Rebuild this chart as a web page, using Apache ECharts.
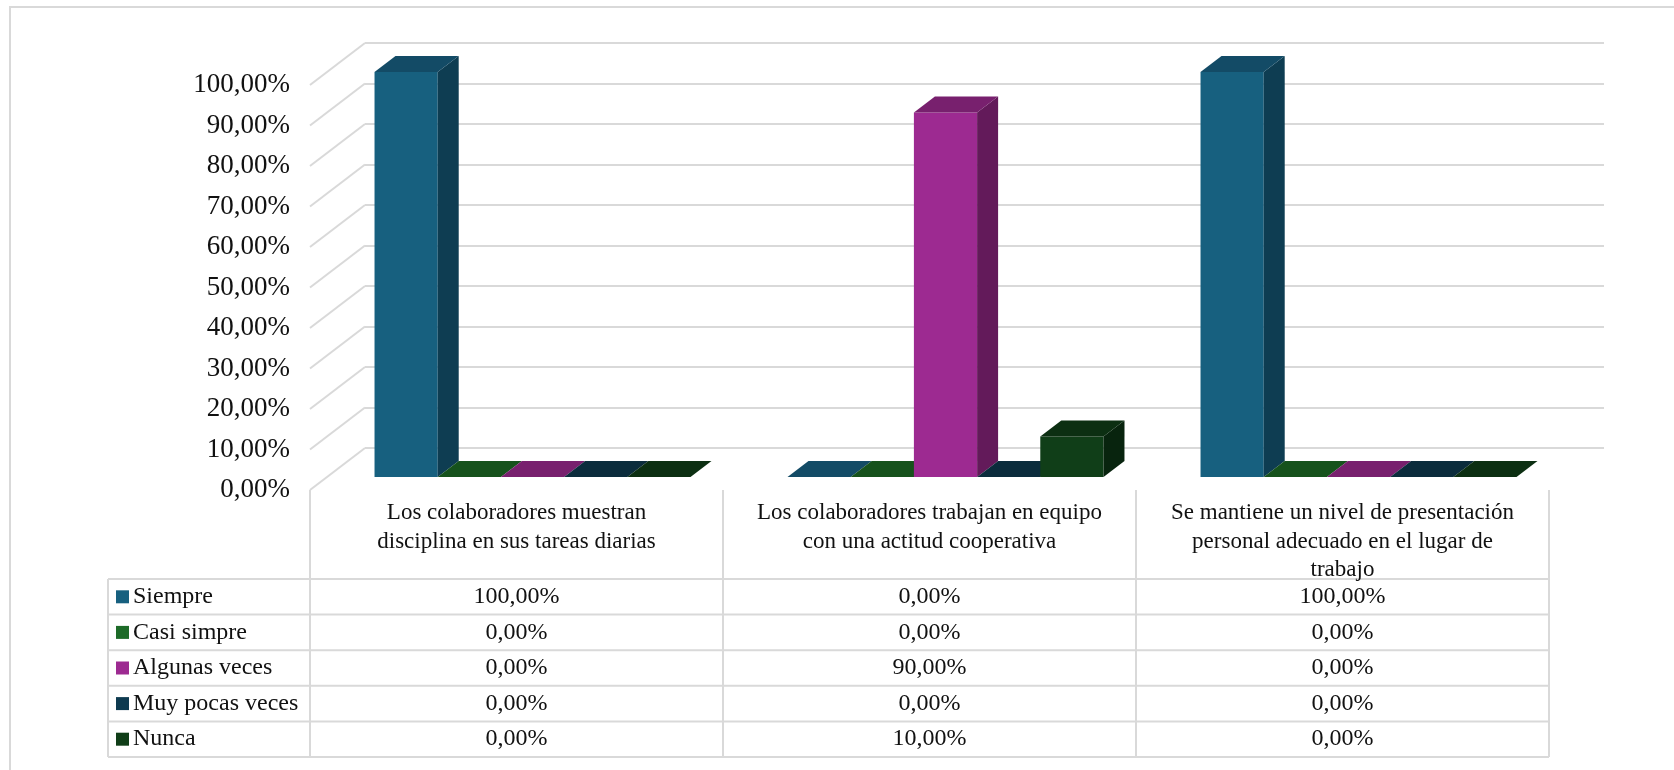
<!DOCTYPE html>
<html><head><meta charset="utf-8">
<script src="https://cdn.jsdelivr.net/npm/echarts@6/dist/echarts.min.js"></script>
<style>html,body{margin:0;padding:0;background:#fff}#c{width:1674px;height:770px}</style>
</head><body><div id="c"></div>
<script>
// ---- data ----
const categories = [
  'Los colaboradores muestran\ndisciplina en sus tareas diarias',
  'Los colaboradores trabajan en equipo\ncon una actitud cooperativa',
  'Se mantiene un nivel de presentación\npersonal adecuado en el lugar de\ntrabajo'
];
const seriesNames = ['Siempre', 'Casi simpre', 'Algunas veces', 'Muy pocas veces', 'Nunca'];
const siempre       = [100, 0, 100];
const casiSimpre    = [0, 0, 0];
const algunasVeces  = [0, 90, 0];
const muyPocasVeces = [0, 0, 0];
const nunca         = [0, 10, 0];
const yTicks = [0, 10, 20, 30, 40, 50, 60, 70, 80, 90, 100];

const seriesValues = [siempre, casiSimpre, algunasVeces, muyPocasVeces, nunca];
const frontColors = ['#17607F', '#1D6B28', '#9D2A91', '#0E3A50', '#103E18'];
const topColors   = ['#134B66', '#16521C', '#78206E', '#0B2C3C', '#0C2F12'];
const sideColors  = ['#0E3D52', '#0F3D14', '#631A5A', '#081F2B', '#08240E'];

// ---- styles / layout ----
const FONT = '"Liberation Serif","Times New Roman",serif';
const FS_AXIS = 27, FS_HEAD = 23, FS_TBL = 24;
const TXT = '#111';
const LINE = '#d9d9d9';
const WALL = {left: 365, top: 43, width: 1239, height: 405};
const WALL_DX = 55, WALL_DY = 42;          // back wall -> front plane
const BAR_DX = 39, BAR_DY = 29;            // back wall -> bar front faces
const DEPTH_X = 21, DEPTH_Y = 16;          // bar depth
const GAP = 0.235;
const N = seriesNames.length;

const fmt = v => v.toFixed(2).replace('.', ',') + '%';

const chart = echarts.init(document.getElementById('c'), null, {renderer: 'canvas'});

function barRender(k) {
  return function (params, api) {
    const cat = api.value(0), v = api.value(1);
    const base = api.coord([cat, 0]);
    const top = api.coord([cat, v]);
    const band = api.size([1, 0])[0];
    const group = band * (1 - GAP);
    const bw = group / N;
    const x0 = base[0] - group / 2 + k * bw;
    const x1 = x0 + bw;
    const yb = base[1], yt = top[1];
    const children = [];
    if (yb - yt > 0.5) {
      children.push({type: 'polygon', shape: {points: [[x0, yb], [x1, yb], [x1, yt], [x0, yt]]},
        style: {fill: frontColors[k]}});
      children.push({type: 'polygon', shape: {points: [[x1, yb], [x1 + DEPTH_X, yb - DEPTH_Y], [x1 + DEPTH_X, yt - DEPTH_Y], [x1, yt]]},
        style: {fill: sideColors[k]}});
    }
    children.push({type: 'polygon', shape: {points: [[x0, yt], [x1, yt], [x1 + DEPTH_X, yt - DEPTH_Y], [x0 + DEPTH_X, yt - DEPTH_Y]]},
      style: {fill: topColors[k]}});
    return {type: 'group', children: children};
  };
}

const series = [{
  type: 'custom', xAxisIndex: 0, yAxisIndex: 0, silent: true, clip: false,
  data: yTicks.map(t => [0, t]),
  renderItem: function (params, api) {
    const y = api.coord([0, api.value(1)])[1];
    const x = params.coordSys.x;
    return {type: 'line', shape: {x1: x, y1: y, x2: x - WALL_DX, y2: y + WALL_DY},
      style: {stroke: LINE, lineWidth: 2}};
  }
}];
seriesValues.forEach((vals, k) => {
  series.push({
    type: 'custom', name: seriesNames[k], xAxisIndex: 1, yAxisIndex: 1, clip: false,
    data: vals.map((v, i) => [i, v]),
    renderItem: barRender(k)
  });
});

// ---- data table (graphic) ----
const tblLeft = 108;
const colLeft = WALL.left - WALL_DX;
const colW = WALL.width / categories.length;
const headTop = WALL.top + WALL.height + WALL_DY;
const rowTop = 579, rowH = 35.6;
const tblBottom = rowTop + rowH * N;
const graphic = [];
graphic.push({type: 'rect', shape: {x: 10, y: 7, width: 1700, height: 800},
  style: {fill: 'none', stroke: LINE, lineWidth: 2}, silent: true});
for (let c = 0; c <= categories.length; c++) {
  const x = colLeft + c * colW;
  graphic.push({type: 'line', shape: {x1: x, y1: headTop, x2: x, y2: tblBottom}, style: {stroke: LINE, lineWidth: 2}});
}
graphic.push({type: 'line', shape: {x1: tblLeft, y1: rowTop, x2: tblLeft, y2: tblBottom}, style: {stroke: LINE, lineWidth: 2}});
for (let r = 0; r <= N; r++) {
  const y = rowTop + r * rowH;
  graphic.push({type: 'line', shape: {x1: tblLeft, y1: y, x2: colLeft + categories.length * colW, y2: y}, style: {stroke: LINE, lineWidth: 2}});
}
seriesNames.forEach((name, r) => {
  const cy = rowTop + r * rowH + rowH / 2;
  graphic.push({type: 'rect', shape: {x: 116, y: cy - 6.5, width: 13, height: 13}, style: {fill: frontColors[r]}});
  graphic.push({type: 'text', x: 133, y: cy, style: {text: name, font: FS_TBL + 'px ' + FONT, fill: TXT, textAlign: 'left', textVerticalAlign: 'middle'}});
  seriesValues[r].forEach((v, c) => {
    graphic.push({type: 'text', x: colLeft + (c + 0.5) * colW, y: cy,
      style: {text: fmt(v), font: FS_TBL + 'px ' + FONT, fill: TXT, textAlign: 'center', textVerticalAlign: 'middle'}});
  });
});

const hiddenX = {type: 'category', data: categories, axisLine: {show: false}, axisTick: {show: false}, axisLabel: {show: false}, splitLine: {show: false}};

chart.setOption({
  backgroundColor: '#fff',
  animation: false,
  grid: [
    {left: WALL.left, top: WALL.top, width: WALL.width, height: WALL.height},
    {left: WALL.left - BAR_DX, top: WALL.top + BAR_DY, width: WALL.width, height: WALL.height},
    {left: WALL.left - WALL_DX, top: WALL.top + WALL_DY, width: WALL.width, height: WALL.height}
  ],
  xAxis: [
    Object.assign({gridIndex: 0}, hiddenX),
    Object.assign({gridIndex: 1}, hiddenX),
    {gridIndex: 2, type: 'category', data: categories,
      axisLine: {show: false}, axisTick: {show: false}, splitLine: {show: false},
      axisLabel: {show: true, interval: 0, margin: 9, fontFamily: FONT, fontSize: FS_HEAD, color: TXT, lineHeight: 28.5, align: 'center'}}
  ],
  yAxis: [
    {gridIndex: 0, type: 'value', min: 0, max: 100, interval: 10,
      axisLine: {show: false}, axisTick: {show: false}, axisLabel: {show: false},
      splitLine: {show: true, lineStyle: {color: LINE, width: 2}}},
    {gridIndex: 1, type: 'value', min: 0, max: 100, interval: 10, show: false, splitLine: {show: false}},
    {gridIndex: 2, type: 'value', min: 0, max: 100, interval: 10,
      axisLine: {show: false}, axisTick: {show: false}, splitLine: {show: false},
      axisLabel: {show: true, margin: 20, fontFamily: FONT, fontSize: FS_AXIS, color: TXT, formatter: v => fmt(v)}}
  ],
  series: series,
  graphic: graphic
});
</script></body></html>
